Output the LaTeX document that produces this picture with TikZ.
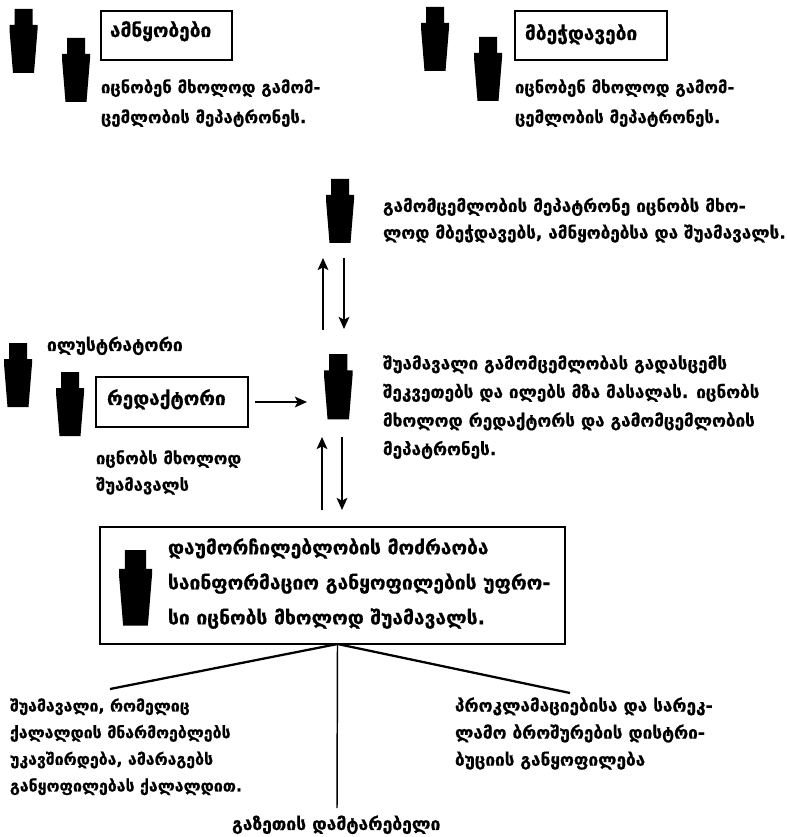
\documentclass[tikz,border=0pt]{standalone}
\usepackage{fontspec}
\setmainfont{DejaVu Sans}[BoldFeatures={FakeBold=0.6}]
\usetikzlibrary{arrows.meta,calc}
% icon: name, left x, top y, scale
\newcommand{\bottleicon}[4]{%
  \node[iconbox, minimum width=#4*28*0.75pt, minimum height=#4*64*0.75pt, anchor=north west] (#1) at (#2,#3) {};
  \fill[black, shift={(#2,#3)}, scale=#4] (6,0) -- (23,0) -- (23,16) -- (28,16) -- (28,21) -- (24.5,64) -- (3.5,64) -- (0,21) -- (0,16) -- (5,16) -- (5,0) -- cycle;
}
\tikzset{
  x=0.75pt, y=-0.75pt,
  iconbox/.style={inner sep=0pt, outer sep=0pt},
  txt/.style 2 args={anchor=north west, inner sep=0pt, outer sep=0pt, align=left,
    font=\bfseries\fontsize{#1pt}{#2pt}\selectfont,
    execute at begin node={\rule{0pt}{14pt}}},
  lab/.style={draw=black, line width=1.6pt, inner sep=0pt, outer sep=0pt, anchor=north west},
  arr/.style={-{Stealth[length=9pt,width=8pt,inset=2pt]}, line width=1.5pt},
  ray/.style={line width=1.7pt},
}
\begin{document}
\begin{tikzpicture}
\useasboundingbox (0,0) rectangle (787,837);
% icons
\bottleicon{a1}{9.5}{9}{1}
\bottleicon{a2}{62}{38}{1}
\bottleicon{b1}{421}{7}{1}
\bottleicon{b2}{474}{37}{1}
\bottleicon{owner}{326}{179}{1}
\bottleicon{mid}{324}{354}{1.02}
\bottleicon{i1}{4}{343}{1}
\bottleicon{i2}{56}{372}{1}
\bottleicon{head}{119}{550}{1.18}
% boxes
\node[lab, minimum width=131*0.75pt, minimum height=49*0.75pt] (setters) at (101,11) {};
\node[txt={14.3}{18}] at (110,18.3) {ამნყობები};
\node[lab, minimum width=152*0.75pt, minimum height=49*0.75pt] (printers) at (515,11) {};
\node[txt={14.3}{18}] at (525,21.3) {მბეჭდავები};
\node[lab, minimum width=152*0.75pt, minimum height=50*0.75pt] (editor) at (96,377) {};
\node[txt={14.3}{18}] at (107,386.3) {რედაქტორი};
\node[lab, minimum width=465*0.75pt, minimum height=117*0.75pt] (boss) at (100,527) {};
% texts
\node[txt={12.5}{22.5}] at (101,79.3) {იცნობენ მხოლოდ გამომ-\\ცემლობის მეპატრონეს.};
\node[txt={12.5}{22.5}] at (515,79.3) {იცნობენ მხოლოდ გამომ-\\ცემლობის მეპატრონეს.};
\node[txt={12.8}{20}] at (383,197.8) {გამომცემლობის მეპატრონე იცნობს მხო-\\ლოდ მბეჭდავებს, ამნყობებსა და შუამავალს.};
\node[txt={12.8}{21.4}] at (383,355.3) {შუამავალი გამომცემლობას გადასცემს\\შეკვეთებს და ილებს მზა მასალას. იცნობს\\მხოლოდ რედაქტორს და გამომცემლობის\\მეპატრონეს.};
\node[txt={13.1}{18}] at (47,332.3) {ილუსტრატორი};
\node[txt={12.5}{20}] at (96,450.3) {იცნობს მხოლოდ\\შუამავალს};
\node[txt={14.4}{26.3}] at (168,538.3) {დაუმორჩილებლობის მოძრაობა\\საინფორმაციო განყოფილების უფრო-\\სი იცნობს მხოლოდ შუამავალს.};
\node[txt={11.9}{20}] at (10,698.3) {შუამავალი, რომელიც\\ქალალდის მნარმოებლებს\\უკავშირდება, ამარაგებს\\განყოფილებას ქალალდით.};
\node[txt={12.85}{20.3}] at (455,697.3) {პროკლამაციებისა და სარეკ-\\ლამო ბროშურების დისტრი-\\ბუციის განყოფილება};
\node[txt={13.1}{18}] (carrier) at (232,811.3) {გაზეთის დამტარებელი};
% connector ends
\coordinate (upA) at (323,330); \coordinate (upB) at (323,258);
\coordinate (dnA) at (344,258); \coordinate (dnB) at (344,329);
\coordinate (upC) at (322,510); \coordinate (upD) at (322,437);
\coordinate (dnC) at (342,437); \coordinate (dnD) at (342,510);
\coordinate (edEnd) at (307,402);
\coordinate (leftEnd) at (110,689);
\coordinate (rightEnd) at (570,693);
\coordinate (downEnd) at (337,808);
% connectors
\draw[arr] (upA) -- (upB);
\draw[arr] (dnA) -- (dnB);
\draw[arr] (upC) -- (upD);
\draw[arr] (dnC) -- (dnD);
\draw[arr] ($(editor.east)+(7,0)$) -- (edEnd);
\draw[ray] ($(boss.south)+(5,0)$) -- (leftEnd);
\draw[ray] ($(boss.south)+(5,0)$) -- (rightEnd);
\draw[line width=1.1pt] ($(boss.south)+(5,0)$) -- (downEnd);
\end{tikzpicture}
\end{document}
